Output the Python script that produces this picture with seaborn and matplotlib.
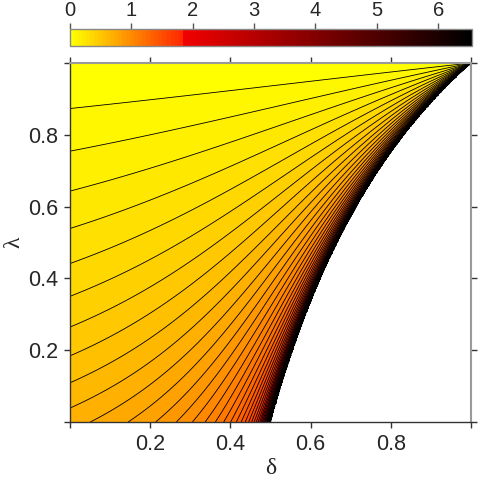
import numpy as np
import matplotlib
matplotlib.use("Agg")
import matplotlib.pyplot as plt
from matplotlib.colors import ListedColormap
import seaborn as sns

# surface settings
delta_range = [0.0, 1.0]
lambda_range = [0.0, 1.0]
n_grid = 700
z_max = 6.55
n_levels = 100

# colour key: yellow -> orange-red, then red -> black
low_colors = ["#ffff00", "#ff2a00"]
high_colors = ["#f00000", "#000000"]
n_low = 28

cbar_ticks = [0, 1, 2, 3, 4, 5, 6]
axis_ticks = [0, 0.2, 0.4, 0.6, 0.8, 1.0]
axis_ticklabels = ["", "0.2", "0.4", "0.6", "0.8", ""]

sns.set_theme(style="ticks")
plt.rcParams['font.family'] = ['Liberation Sans', 'DejaVu Sans']

# grid
d = np.linspace(*delta_range, n_grid)
l = np.linspace(*lambda_range, n_grid)
D, L = np.meshgrid(d, l)
with np.errstate(all='ignore'):
    num = 1 - D * (2 - L)
    Z = -np.log((1 + L) / 2) - 0.5 * np.log(num / (1 - D))
Z = np.where(num > 0, np.minimum(Z, z_max), np.nan)

levels = np.linspace(0, z_max, n_levels + 1)
cmap = ListedColormap(sns.blend_palette(low_colors, n_low)
                      + sns.blend_palette(high_colors, n_levels - n_low))

fig = plt.figure(figsize=(4.8, 4.8), dpi=100)
ax = fig.add_axes([70/480, 58/480, 401/480, 359/480])
cax = fig.add_axes([70/480, 434/480, 402/480, 17/480])

cf = ax.contourf(D, L, Z, levels=levels, cmap=cmap)
ax.contour(D, L, Z, levels=levels[1:-1], colors='black', linewidths=0.6)

ax.set_xlim(0, 1)
ax.set_ylim(0, 1)
ax.set_xticks(axis_ticks)
ax.set_xticklabels(axis_ticklabels)
ax.set_yticks(axis_ticks)
ax.set_yticklabels(axis_ticklabels)
ax.tick_params(direction='out', length=4.5, width=1, color='#333333',
               top=True, right=True, labelsize=15.5, pad=4)
for side in ['left', 'bottom']:
    ax.spines[side].set_color('#333333')
    ax.spines[side].set_linewidth(1)
for side in ['top', 'right']:
    ax.spines[side].set_color('#999999')
    ax.spines[side].set_linewidth(1.5)
ax.set_xlabel('δ', family='Liberation Serif', fontsize=17, labelpad=2)
ax.set_ylabel('λ', family='Liberation Serif', fontsize=17, labelpad=3)

cb = fig.colorbar(cf, cax=cax, orientation='horizontal', ticks=cbar_ticks)
cax.xaxis.set_ticks_position('top')
cax.tick_params(direction='out', length=4, width=1, color='#555555',
                labelsize=14.5, pad=2.5)
cb.outline.set_edgecolor('#888888')
cb.outline.set_linewidth(1)

fig.savefig("out.png", dpi=100, facecolor='white')
